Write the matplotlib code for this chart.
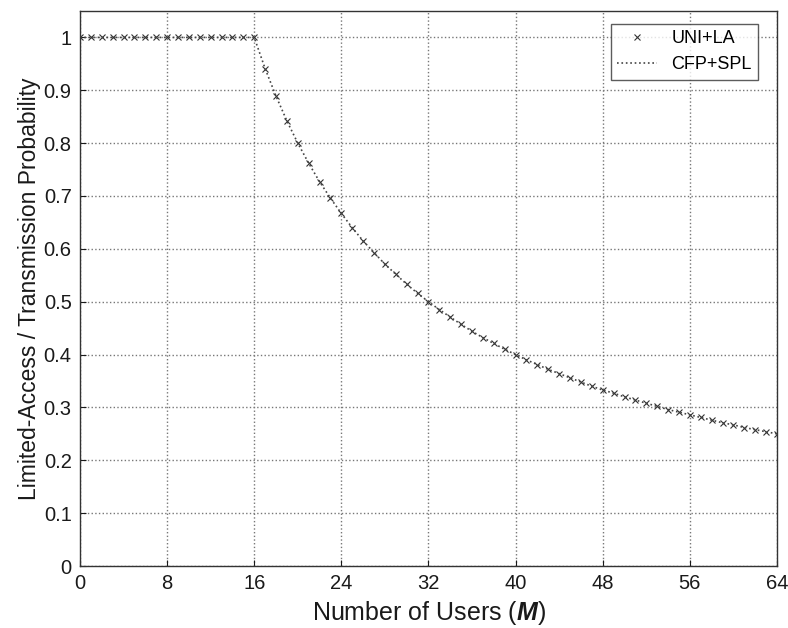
import matplotlib
matplotlib.use("Agg")
import matplotlib.pyplot as plt

# Number of users M
users = list(range(0, 65))

# Limited-access / transmission probability per number of users
uni_la = [1.0] * 17 + [
    0.941, 0.889, 0.842, 0.800, 0.762, 0.727, 0.696, 0.667,
    0.640, 0.615, 0.593, 0.571, 0.552, 0.533, 0.516, 0.500,
    0.485, 0.471, 0.457, 0.444, 0.432, 0.421, 0.410, 0.400,
    0.390, 0.381, 0.372, 0.364, 0.356, 0.348, 0.340, 0.333,
    0.327, 0.320, 0.314, 0.308, 0.302, 0.296, 0.291, 0.286,
    0.281, 0.276, 0.271, 0.267, 0.262, 0.258, 0.254, 0.250,
]
cfp_spl = list(uni_la)

x_ticks = [0, 8, 16, 24, 32, 40, 48, 56, 64]
y_ticks = [0, 0.1, 0.2, 0.3, 0.4, 0.5, 0.6, 0.7, 0.8, 0.9, 1]
y_ticklabels = ["0", "0.1", "0.2", "0.3", "0.4", "0.5", "0.6", "0.7", "0.8", "0.9", "1"]

plt.rcParams["font.family"] = ["Liberation Sans", "DejaVu Sans"]
plt.rcParams["mathtext.fontset"] = "custom"
plt.rcParams["mathtext.bfit"] = "Liberation Sans:bold:italic"

fig = plt.figure(figsize=(7.88, 6.28), dpi=100)
ax = fig.add_axes([0.1015, 0.0987, 0.8845, 0.8838])

ax.plot(users, uni_la, linestyle="none", marker="x", markersize=4,
        markeredgewidth=0.8, color="#333333", label="UNI+LA")
ax.plot(users, cfp_spl, linestyle=":", linewidth=1.2, color="#444444",
        label="CFP+SPL")

ax.set_xlim(0, 64)
ax.set_ylim(0, 1.05)
ax.set_xticks(x_ticks)
ax.set_yticks(y_ticks)
ax.set_yticklabels(y_ticklabels)
ax.tick_params(direction="in", length=4, labelsize=14.5, pad=6, colors="#1a1a1a")
ax.grid(True, linestyle=":", linewidth=1.0, color="#777777")

for spine in ax.spines.values():
    spine.set_linewidth(1.0)
    spine.set_color("#333333")

ax.set_xlabel("Number of Users ($\\boldsymbol{M}$)", fontsize=18,
              color="#1a1a1a", labelpad=4)
ax.set_ylabel("Limited-Access / Transmission Probability", fontsize=16.5,
              color="#1a1a1a", labelpad=2)

leg = ax.legend(loc="upper right", fontsize=13, frameon=True, fancybox=False,
                edgecolor="#333333", borderpad=0.35, handlelength=2.2,
                bbox_to_anchor=(0.986, 0.993))
leg.get_frame().set_linewidth(1.0)

fig.savefig("out.png", dpi=100)
